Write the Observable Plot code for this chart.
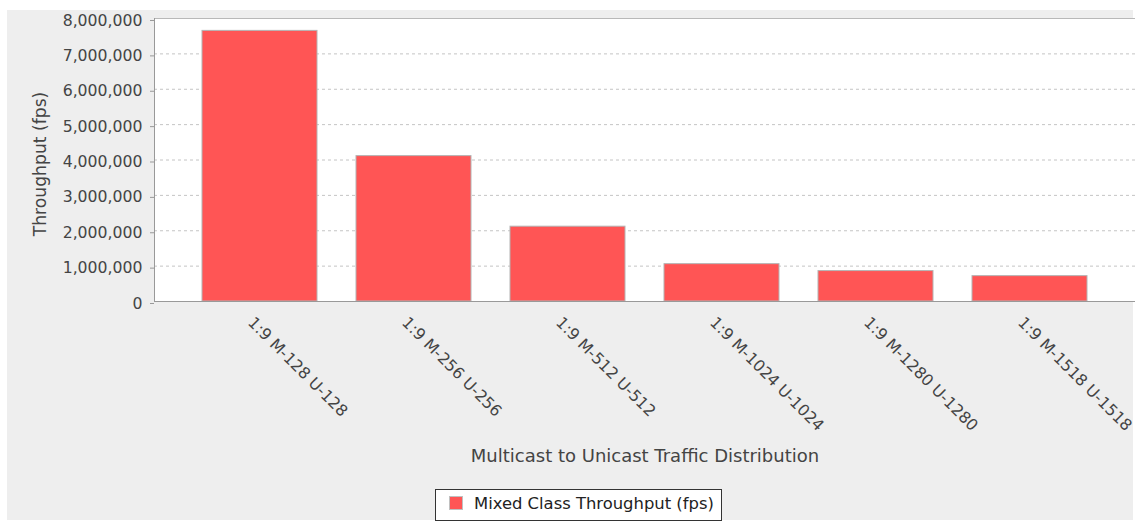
<!DOCTYPE html>
<html><head><meta charset="utf-8">
<script src="https://cdn.jsdelivr.net/npm/d3@7"></script>
<script src="https://cdn.jsdelivr.net/npm/@observablehq/plot@0.6"></script>
<style>
html,body{margin:0;padding:0;background:#fff;}
#wrap{position:relative;width:1135px;height:521px;overflow:hidden;font-family:"DejaVu Sans",sans-serif;}
#bg{position:absolute;left:7px;top:10px;width:1126px;height:510px;background:#eeeeee;}
#chart{position:absolute;left:0;top:0;}
#legend{position:absolute;left:435px;top:489px;width:287px;height:32px;box-sizing:border-box;border:1px solid #333;background:#fff;}
#legend .sw{position:absolute;left:13px;top:6px;width:14px;height:14px;box-sizing:border-box;background:#ff5555;border:1px solid #c0c0c0;}
#legend .tx{position:absolute;left:38px;top:4px;font-size:16.4px;line-height:20px;color:#222;white-space:nowrap;}
</style></head><body>
<div id="wrap"><div id="bg"></div><div id="chart"></div><div id="legend"><span class="sw"></span><span class="tx" id="legendText"></span></div></div>
<script>
const categories = ["1:9 M-128 U-128", "1:9 M-256 U-256", "1:9 M-512 U-512", "1:9 M-1024 U-1024", "1:9 M-1280 U-1280", "1:9 M-1518 U-1518"];
const throughput = [7650000, 4110000, 2115000, 1056000, 860000, 717000];
const yTicks = [0, 1000000, 2000000, 3000000, 4000000, 5000000, 6000000, 7000000, 8000000];
const xTitle = "Multicast to Unicast Traffic Distribution";
const yTitle = "Throughput (fps)";
const seriesName = "Mixed Class Throughput (fps)";

const data = categories.map((c, i) => ({cat: c, value: throughput[i]}));
document.getElementById("legendText").textContent = seriesName;

const chart = Plot.plot({
  width: 1135, height: 470,
  marginLeft: 154, marginRight: 0, marginTop: 18, marginBottom: 169,
  style: {background: "transparent", fontFamily: "'DejaVu Sans', sans-serif", overflow: "visible"},
  x: {domain: categories, paddingInner: 0.253, paddingOuter: 0.308, axis: null},
  y: {domain: [0, 8000000], axis: null},
  marks: [
    Plot.frame({fill: "white", stroke: "none"}),
    Plot.gridY(yTicks, {stroke: "#c4c4c4", strokeOpacity: 1, strokeDasharray: "3,3"}),
    Plot.frame({anchor: "top", stroke: "#b8b8b8"}),
    Plot.barY(data, {x: "cat", y: "value", fill: "#ff5555", stroke: "#b4b4b4", strokeWidth: 1}),
    Plot.frame({anchor: "left", stroke: "#999"}),
    Plot.frame({anchor: "bottom", stroke: "#999"}),
    Plot.axisY(yTicks, {tickSize: 4, tickPadding: 8, tickFormat: d3.format(","), fontSize: 15.7, stroke: "#999", fill: "#444", dy: 2, label: null}),
    Plot.text(categories, {x: d => d, text: d => d, frameAnchor: "bottom", rotate: 45, textAnchor: "start", lineAnchor: "bottom", dx: -13, dy: 22, fontSize: 15.9, fill: "#444"}),
    Plot.text([yTitle], {text: d => d, frameAnchor: "left", rotate: -90, textAnchor: "middle", lineAnchor: "middle", dx: -114, dy: 4, fontSize: 17.2, fill: "#444"}),
    Plot.text([xTitle], {text: d => d, frameAnchor: "bottom", textAnchor: "middle", lineAnchor: "middle", dy: 154.5, fontSize: 18, fill: "#444"})
  ]
});
document.getElementById("chart").appendChild(chart);
</script>
</body></html>
